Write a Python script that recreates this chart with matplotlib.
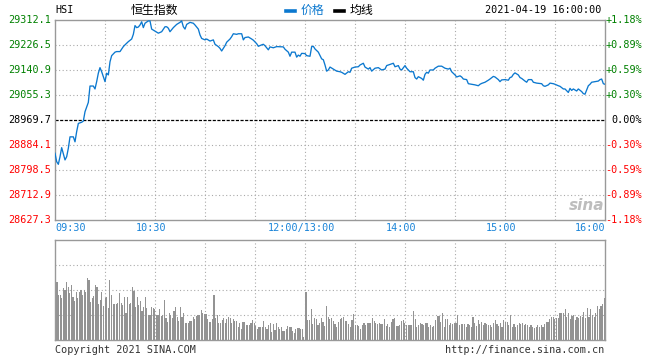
import numpy as np
import matplotlib
matplotlib.use("Agg")
import matplotlib.pyplot as plt
import matplotlib.transforms as mtransforms
from matplotlib.lines import Line2D

# 画布尺寸（像素）
W, H = 660, 360

prev_close = 28969.7
price_ticks = [28627.3, 28712.9, 28798.5, 28884.1, 28969.7, 29055.3, 29140.9, 29226.5, 29312.1]
time_labels = ["09:30", "10:30", "12:00/13:00", "14:00", "15:00", "16:00"]
time_label_pos = [0, 60, 150, 210, 270, 330]  # 交易分钟

# 分时价格（分钟, 点位）
minutes = [0, 1, 2, 3, 4, 6, 7, 8, 9, 11, 12, 13, 14, 16, 17, 18, 20, 21, 23, 24,
           25, 26, 27, 28, 30, 31, 32, 33, 34, 36, 37, 39, 41, 42, 44, 46, 47, 48, 49, 50,
           51, 52, 53, 54, 56, 57, 58, 60, 62, 64, 66, 67, 68, 69, 71, 73, 75, 76, 77, 78,
           79, 81, 83, 84, 86, 87, 88, 90, 91, 93, 95, 96, 98, 99, 100, 102, 103, 105, 106, 107,
           109, 110, 112, 113, 114, 116, 118, 119, 121, 122, 124, 125, 126, 128, 129, 131, 133, 137, 138, 140,
           141, 142, 144, 145, 146, 147, 148, 150, 151, 153, 154, 155, 156, 158, 160, 161, 162, 163, 164, 165,
           167, 169, 171, 172, 174, 176, 177, 178, 180, 182, 183, 185, 186, 188, 189, 190, 192, 194, 196, 198,
           199, 201, 203, 204, 206, 207, 208, 210, 211, 213, 215, 216, 217, 218, 220, 221, 222, 223, 224, 225,
           227, 228, 230, 232, 234, 236, 237, 238, 240, 241, 243, 244, 245, 247, 248, 250, 252, 254, 255, 256,
           258, 260, 261, 263, 264, 266, 267, 268, 270, 272, 273, 274, 275, 276, 278, 279, 280, 282, 283, 284,
           286, 287, 289, 292, 293, 294, 296, 297, 299, 300, 302, 303, 305, 306, 308, 309, 310, 311, 313, 314,
           316, 317, 318, 319, 320, 321, 322, 324, 326, 327, 328, 329, 330]
prices = [28856, 28827, 28818, 28844, 28875, 28833, 28844, 28873, 28912, 28912, 28895, 28930, 28958, 28962, 28966, 28998, 29030, 29086, 29086, 29076,
          29101, 29130, 29149, 29135, 29101, 29130, 29124, 29169, 29190, 29202, 29204, 29204, 29221, 29227, 29238, 29247, 29263, 29293, 29286, 29288,
          29295, 29306, 29286, 29301, 29309, 29309, 29281, 29274, 29267, 29272, 29289, 29289, 29284, 29272, 29286, 29297, 29304, 29309, 29289, 29281,
          29297, 29304, 29301, 29295, 29281, 29261, 29249, 29244, 29247, 29240, 29244, 29229, 29221, 29215, 29206, 29224, 29236, 29247, 29255, 29265,
          29263, 29265, 29265, 29244, 29252, 29254, 29247, 29243, 29231, 29222, 29227, 29229, 29224, 29210, 29220, 29217, 29221, 29220, 29212, 29202,
          29188, 29202, 29202, 29185, 29192, 29188, 29198, 29197, 29190, 29188, 29221, 29222, 29213, 29202, 29179, 29176, 29158, 29137, 29141, 29151,
          29144, 29137, 29135, 29133, 29126, 29135, 29133, 29147, 29151, 29152, 29158, 29164, 29151, 29144, 29149, 29137, 29147, 29149, 29141, 29144,
          29156, 29160, 29164, 29152, 29156, 29144, 29141, 29156, 29147, 29135, 29135, 29115, 29110, 29118, 29112, 29106, 29126, 29133, 29130, 29141,
          29141, 29147, 29154, 29154, 29147, 29144, 29147, 29135, 29124, 29117, 29121, 29117, 29110, 29108, 29094, 29092, 29090, 29087, 29092, 29095,
          29099, 29106, 29110, 29119, 29117, 29108, 29101, 29107, 29108, 29106, 29115, 29117, 29126, 29131, 29124, 29115, 29112, 29103, 29099, 29108,
          29108, 29099, 29096, 29094, 29087, 29085, 29090, 29096, 29094, 29092, 29087, 29085, 29076, 29076, 29064, 29078, 29071, 29076, 29069, 29076,
          29067, 29060, 29058, 29072, 29087, 29092, 29099, 29101, 29103, 29108, 29110, 29094, 29092]

# 成交量（相对高度，满格=100）
vol_am = [58, 45, 45, 42, 52, 50, 58, 53, 47, 55, 43, 39, 48, 42, 48, 50, 45, 50, 48, 62,
          60, 38, 42, 44, 55, 53, 36, 40, 48, 34, 42, 43, 32, 60, 45, 36, 36, 36, 37, 47,
          37, 35, 43, 27, 43, 36, 37, 53, 49, 33, 43, 35, 39, 29, 33, 43, 32, 25, 25, 33,
          32, 31, 25, 25, 31, 24, 25, 40, 22, 18, 27, 25, 22, 29, 33, 23, 19, 33, 23, 27,
          17, 17, 17, 19, 19, 23, 21, 24, 25, 25, 30, 27, 26, 26, 21, 18, 18, 21, 45, 22,
          25, 17, 17, 20, 22, 17, 21, 23, 22, 17, 21, 19, 19, 13, 17, 11, 18, 18, 15, 15,
          15, 17, 20, 17, 14, 11, 13, 13, 13, 19, 13, 11, 15, 17, 8, 16, 10, 17, 13, 11,
          13, 9, 9, 11, 14, 13, 13, 9, 7, 11, 12, 12, 11, 11, 3]
vol_pm = [48, 20, 20, 31, 16, 22, 21, 15, 17, 22, 18, 14, 34, 23, 21,
          22, 19, 16, 13, 18, 21, 22, 23, 19, 19, 16, 13, 20, 26, 15, 15, 14, 11, 15, 17,
          15, 17, 17, 17, 22, 19, 17, 16, 17, 16, 16, 21, 14, 16, 13, 18, 21, 22, 14, 14,
          15, 19, 20, 17, 15, 15, 15, 15, 29, 21, 13, 15, 17, 16, 15, 17, 17, 13, 15, 13,
          14, 20, 24, 24, 18, 27, 13, 21, 21, 15, 17, 16, 17, 17, 25, 15, 16, 16, 16, 13,
          16, 15, 13, 23, 17, 14, 20, 16, 18, 15, 17, 16, 15, 15, 13, 17, 20, 16, 14, 17,
          13, 20, 18, 18, 15, 25, 13, 16, 13, 15, 17, 16, 17, 15, 16, 15, 13, 15, 13, 12,
          13, 15, 13, 15, 13, 16, 18, 18, 21, 23, 23, 21, 22, 22, 27, 27, 27, 31, 23, 27,
          21, 24, 25, 20, 23, 22, 24, 23, 28, 22, 32, 23, 31, 25, 23, 27, 34, 31, 34, 36, 42]

LINE_BLUE = "#0b78cf"
TICK_BLUE = "#1a84d8"
GRID_GRAY = "#aaaaaa"
SPINE_GRAY = "#999999"
UP_GREEN = "#008000"
DOWN_RED = "#ff0000"
MONO = "DejaVu Sans Mono"
CJK = ["Noto Sans CJK SC", "DejaVu Sans"]


def fx(px):
    return px / W


def fy(py):
    return 1 - py / H


fig = plt.figure(figsize=(W / 100, H / 100), dpi=100)
ax = fig.add_axes([fx(55), fy(220), 550 / W, 200 / H])
axv = fig.add_axes([fx(55), fy(340), 550 / W, 100 / H])

for a in (ax, axv):
    a.set_xlim(0, 330)
    a.set_xticks([])
    a.set_yticks([])
    for s in a.spines.values():
        s.set_color(SPINE_GRAY)
        s.set_linewidth(1.0)
    for m in range(30, 330, 30):
        a.axvline(m, color=GRID_GRAY, lw=0.8, ls=(0, (1, 2.2)), zorder=1)

# 主图
ax.set_ylim(price_ticks[0], price_ticks[-1])
for v in price_ticks[1:-1]:
    if abs(v - prev_close) < 0.01:
        ax.axhline(v, color="black", lw=0.9, ls=(0, (2.5, 1.2)), zorder=1)
    else:
        ax.axhline(v, color=GRID_GRAY, lw=0.8, ls=(0, (1, 2.2)), zorder=1)
ax.plot(minutes, prices, color=LINE_BLUE, lw=0.95, zorder=3)

left_tr = mtransforms.blended_transform_factory(fig.transFigure, ax.transData)
for v in price_ticks:
    if v > prev_close + 0.01:
        c = UP_GREEN
    elif v < prev_close - 0.01:
        c = DOWN_RED
    else:
        c = "black"
    pct = (v - prev_close) / prev_close * 100
    if abs(pct) < 0.005:
        pct_txt = "0.00%"
    else:
        pct_txt = f"{pct:+.2f}%"
    ax.text(fx(51), v, f"{v:.1f}", transform=left_tr, ha="right", va="center",
            color=c, fontsize=7.3, family=MONO, clip_on=False)
    ax.text(fx(642), v, pct_txt, transform=left_tr, ha="right", va="center",
            color=c, fontsize=7.3, family=MONO, clip_on=False)

# 时间轴标签
bot_tr = mtransforms.blended_transform_factory(ax.transData, fig.transFigure)
shift = mtransforms.ScaledTranslation(-4 / 100, 0, fig.dpi_scale_trans)
for i, (m, lab) in enumerate(zip(time_label_pos, time_labels)):
    if i == 0:
        ax.text(m, fy(228), lab, transform=bot_tr, ha="left", va="center",
                color=TICK_BLUE, fontsize=7.3, family=MONO, clip_on=False)
    elif i == len(time_labels) - 1:
        ax.text(m, fy(228), lab, transform=bot_tr, ha="right", va="center",
                color=TICK_BLUE, fontsize=7.3, family=MONO, clip_on=False)
    else:
        ax.text(m, fy(228), lab, transform=bot_tr + shift, ha="center", va="center",
                color=TICK_BLUE, fontsize=7.3, family=MONO, clip_on=False)

# 成交量
axv.set_ylim(0, 100)
for v in (25, 50, 75):
    axv.axhline(v, color=GRID_GRAY, lw=0.8, ls=(0, (1, 2.2)), zorder=1)
x_am = np.linspace(1.2, 149.3, len(vol_am))
x_pm = np.linspace(150.6, 329.6, len(vol_pm))
axv.bar(x_am, vol_am, width=0.7, color="#939393", zorder=2, antialiased=False)
axv.bar(x_pm, vol_pm, width=0.7, color="#939393", zorder=2, antialiased=False)

# 顶部信息
fig.text(fx(55), fy(10), "HSI", ha="left", va="center", fontsize=7.3, family=MONO)
fig.text(fx(131), fy(10), "恒生指数", ha="left", va="center", fontsize=8.6, family=CJK)
fig.add_artist(Line2D([fx(286), fx(295)], [fy(11), fy(11)], color=LINE_BLUE, lw=2.6,
                      transform=fig.transFigure))
fig.text(fx(301), fy(10), "价格", ha="left", va="center", fontsize=8.6, family=CJK, color=LINE_BLUE)
fig.add_artist(Line2D([fx(335), fx(344)], [fy(11), fy(11)], color="black", lw=2.6,
                      transform=fig.transFigure))
fig.text(fx(350), fy(10), "均线", ha="left", va="center", fontsize=8.6, family=CJK)
fig.text(fx(601), fy(10), "2021-04-19 16:00:00", ha="right", va="center",
         fontsize=7.3, family=MONO)

# 水印
fig.text(fx(587), fy(206), "sina", ha="center", va="center", fontsize=11,
         style="italic", weight="bold", color="#bdbdbd", family="DejaVu Sans")

# 底部版权
fig.text(fx(55), fy(350), "Copyright 2021 SINA.COM", ha="left", va="center",
         fontsize=7.3, family=MONO, color="#333333")
fig.text(fx(604), fy(350), "http://finance.sina.com.cn", ha="right", va="center",
         fontsize=7.3, family=MONO, color="#333333")

fig.savefig("out.png", dpi=100)
